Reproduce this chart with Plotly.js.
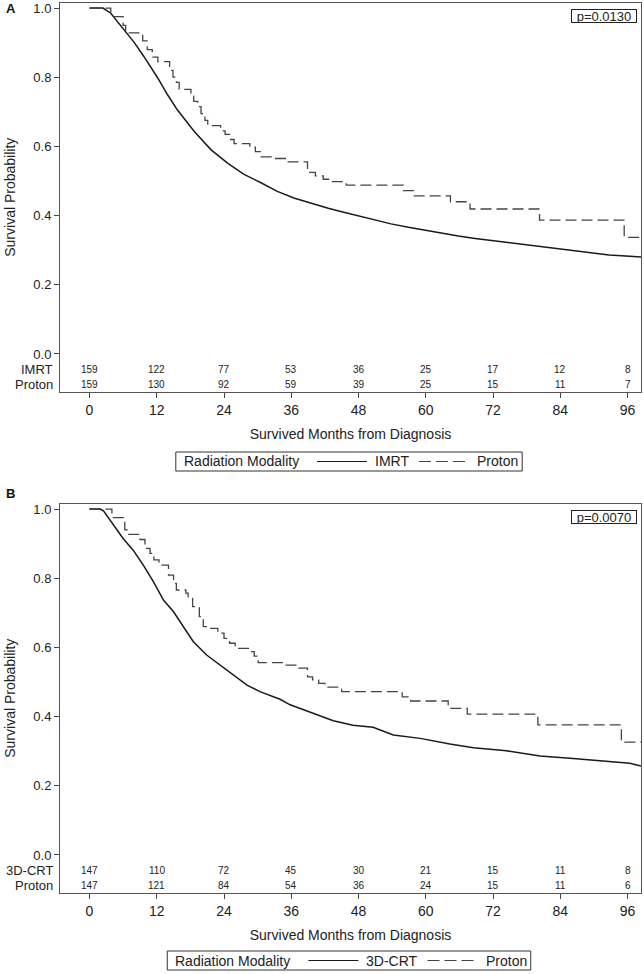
<!DOCTYPE html>
<html>
<head>
<meta charset="utf-8">
<script src="https://cdn.plot.ly/plotly-3.0.1.min.js"></script>
<style>
  html, body { margin: 0; padding: 0; background: #fff; }
  #chart { width: 644px; height: 974px; }
</style>
</head>
<body>
<div id="chart"></div>
<script>
// ---------------- DATA ----------------
// Panel A: IMRT vs Proton
const imrtA_t = [0, 2.4, 3.8, 5, 6.75, 8, 9.7, 12.1, 13.9, 15.7, 18.7, 21.7, 24.7, 27.5, 30.6, 33.5, 36.6, 39.5, 42.6, 45, 48.5, 50.9, 53.8, 56.9, 59.9, 62.9, 65.8, 68.8, 71.8, 74.8, 77.8, 80.8, 83.7, 86.7, 89.7, 92.7, 95.7, 98.4];
const imrtA_s = [1.0, 1.0, 0.985, 0.96, 0.927, 0.90, 0.86, 0.80, 0.75, 0.705, 0.643, 0.59, 0.551, 0.52, 0.495, 0.47, 0.45, 0.435, 0.421, 0.411, 0.397, 0.387, 0.376, 0.366, 0.357, 0.349, 0.341, 0.334, 0.328, 0.322, 0.315, 0.308, 0.302, 0.296, 0.291, 0.286, 0.283, 0.280];
const protonA_t = [0, 3.8, 6.0, 6.45, 9.5, 10.3, 11.2, 12.2, 14.3, 14.9, 15.5, 16.0, 18.1, 18.6, 19.3, 19.9, 20.6, 21.1, 23.4, 24.2, 25.0, 25.8, 28.6, 29.6, 30.6, 33.0, 35.2, 38.9, 40.3, 41.7, 43.0, 45.8, 56.0, 57.8, 64.4, 67.9, 80.3, 95.4, 98.4];
const protonA_s = [1.0, 0.975, 0.95, 0.928, 0.905, 0.88, 0.858, 0.845, 0.82, 0.80, 0.785, 0.765, 0.745, 0.73, 0.715, 0.695, 0.675, 0.66, 0.645, 0.635, 0.62, 0.608, 0.598, 0.585, 0.570, 0.565, 0.555, 0.525, 0.515, 0.505, 0.498, 0.488, 0.472, 0.457, 0.440, 0.419, 0.387, 0.337, 0.337];

// Panel B: 3D-CRT vs Proton
const crtB_t = [0, 1.9, 2.5, 4.25, 6.0, 7.8, 9.6, 11.4, 13.2, 15.0, 16.7, 18.5, 20.9, 24.5, 28.1, 30.4, 34.0, 35.8, 39.9, 43.5, 47, 50.6, 54.2, 59.0, 64.3, 68.5, 74.4, 80.4, 86.3, 92.3, 96.4, 98.4];
const crtB_s = [1.0, 1.0, 0.995, 0.954, 0.915, 0.881, 0.838, 0.79, 0.737, 0.703, 0.66, 0.617, 0.578, 0.535, 0.491, 0.472, 0.45, 0.434, 0.409, 0.388, 0.375, 0.369, 0.347, 0.337, 0.321, 0.31, 0.301, 0.286, 0.279, 0.27, 0.265, 0.257];
const protonB_t = [0, 4.0, 6.3, 6.9, 9.0, 9.9, 10.8, 11.5, 12.4, 14.1, 15.0, 15.5, 17.2, 17.6, 18.4, 19.6, 20.3, 21.1, 22.9, 24.0, 25.0, 26.0, 28.5, 29.4, 30.1, 34.4, 37.2, 38.9, 39.8, 40.9, 42.0, 45.0, 55.8, 57.3, 64.0, 67.4, 80.0, 94.9, 98.4];
const protonB_s = [1.0, 0.975, 0.94, 0.927, 0.912, 0.886, 0.872, 0.853, 0.838, 0.809, 0.785, 0.766, 0.757, 0.742, 0.718, 0.689, 0.66, 0.655, 0.641, 0.626, 0.612, 0.597, 0.588, 0.575, 0.556, 0.549, 0.540, 0.515, 0.506, 0.496, 0.485, 0.472, 0.457, 0.445, 0.424, 0.407, 0.376, 0.326, 0.326];

// Numbers at risk
const riskMonths = [0, 12, 24, 36, 48, 60, 72, 84, 96];
const riskA_imrt   = [159, 122, 77, 53, 36, 25, 17, 12, 8];
const riskA_proton = [159, 130, 92, 59, 39, 25, 15, 11, 7];
const riskB_crt    = [147, 110, 72, 45, 30, 21, 15, 11, 8];
const riskB_proton = [147, 121, 84, 54, 36, 24, 15, 11, 6];

const xTicks = [0, 12, 24, 36, 48, 60, 72, 84, 96];
const yTicks = [0, 0.2, 0.4, 0.6, 0.8, 1.0];
const pA = 'p=0.0130';
const pB = 'p=0.0070';
const legendTitle = 'Radiation Modality';
const seriesA = ['IMRT', 'Proton'];
const seriesB = ['3D-CRT', 'Proton'];

// ---------------- STYLE ----------------
const FONT = 'Liberation Sans, Arial, sans-serif';
const NARROW = 'Liberation Sans Narrow, Arial Narrow, Liberation Sans, Arial, sans-serif';
const SOLID_COLOR = '#1a1a1a';
const DASH_COLOR = '#444';
const DASH = '11px,5px';
const solidLine = {color: SOLID_COLOR, width: 1.5, shape: 'linear'};
const dashLine = {color: DASH_COLOR, width: 1.3, dash: DASH, shape: 'hv'};

const traces = [
  {x: imrtA_t, y: imrtA_s, type: 'scatter', mode: 'lines', name: seriesA[0], line: solidLine, xaxis: 'x', yaxis: 'y', hoverinfo: 'skip'},
  {x: protonA_t, y: protonA_s, type: 'scatter', mode: 'lines', name: seriesA[1], line: dashLine, xaxis: 'x', yaxis: 'y', hoverinfo: 'skip'},
  {x: crtB_t, y: crtB_s, type: 'scatter', mode: 'lines', name: seriesB[0], line: solidLine, xaxis: 'x2', yaxis: 'y2', hoverinfo: 'skip'},
  {x: protonB_t, y: protonB_s, type: 'scatter', mode: 'lines', name: seriesB[1], line: dashLine, xaxis: 'x2', yaxis: 'y2', hoverinfo: 'skip'}
];

const W = 644, H = 974;
const xDom = [60 / W, 641 / W];
const yDomA = [1 - 392 / H, 1 - 2.5 / H];
const yDomB = [1 - 893 / H, 1 - 503.5 / H];
const XR = [-5.26, 98.4];
const YR = [-0.11, 1.016];

function xAxis(anchor) {
  return {
    domain: xDom, range: XR, anchor: anchor,
    showline: true, mirror: true, linecolor: '#555', linewidth: 1,
    showgrid: false, zeroline: false,
    ticks: 'outside', ticklen: 5, tickcolor: '#444', tickwidth: 1,
    tickvals: xTicks, ticktext: xTicks.map(String),
    tickfont: {family: FONT, size: 14, color: '#222'},
    title: {text: 'Survived Months from Diagnosis', font: {family: FONT, size: 14, color: '#222'}, standoff: 12}
  };
}
function yAxis(anchor, dom) {
  return {
    domain: dom, range: YR, anchor: anchor,
    showline: true, mirror: true, linecolor: '#555', linewidth: 1,
    showgrid: false, zeroline: false,
    ticks: 'outside', ticklen: 5, tickcolor: '#444', tickwidth: 1,
    tickvals: yTicks, ticktext: yTicks.map(v => v.toFixed(1)),
    tickfont: {family: FONT, size: 13, color: '#222'},
    title: {text: 'Survival Probability', font: {family: FONT, size: 14, color: '#222'}, standoff: 14}
  };
}

const annotations = [];
const shapes = [];
function riskRows(xref, yref, labels, rows) {
  const ys = [-0.046, -0.087];
  rows.forEach((vals, r) => {
    annotations.push({xref: xref, yref: yref, x: XR[0], y: ys[r], text: labels[r], showarrow: false,
      xanchor: 'right', yanchor: 'middle', xshift: -5, font: {family: FONT, size: 13, color: '#222'}});
    riskMonths.forEach((m, i) => {
      annotations.push({xref: xref, yref: yref, x: m, y: ys[r], text: String(vals[i]), showarrow: false,
        xanchor: 'center', yanchor: 'middle', font: {family: NARROW, size: 10, color: '#222'}});
    });
  });
}
riskRows('x', 'y', seriesA, [riskA_imrt, riskA_proton]);
riskRows('x2', 'y2', seriesB, [riskB_crt, riskB_proton]);

function pBox(xref, yref, txt) {
  annotations.push({xref: xref + ' domain', yref: yref + ' domain', x: 1, y: 1, xanchor: 'right', yanchor: 'top',
    xshift: -4, yshift: -6, text: txt, showarrow: false, bordercolor: '#222', borderwidth: 1, borderpad: 0,
    width: 64, height: 12, bgcolor: '#fff', font: {family: FONT, size: 13, color: '#222'}});
}
pBox('x', 'y', pA);
pBox('x2', 'y2', pB);

annotations.push({xref: 'paper', yref: 'paper', x: 4 / W, y: 1 - 8 / H, xanchor: 'left', yanchor: 'middle',
  text: '<b>A</b>', showarrow: false, font: {family: FONT, size: 13, color: '#111'}});
annotations.push({xref: 'paper', yref: 'paper', x: 4 / W, y: 1 - 493 / H, xanchor: 'left', yanchor: 'middle',
  text: '<b>B</b>', showarrow: false, font: {family: FONT, size: 13, color: '#111'}});

// ---- legend box (drawn as a framed key below each panel) ----
const measureCtx = document.createElement('canvas').getContext('2d');
function textW(t, size) {
  measureCtx.font = size + 'px "Liberation Sans", Arial, sans-serif';
  return measureCtx.measureText(t).width;
}
function legendBox(names, topPx, botPx, centerPx) {
  const fs = 14;
  const wT = textW(legendTitle, fs), w1 = textW(names[0], fs), w2 = textW(names[1], fs);
  const padL = 6, gapTitle = 20, lineLen = 50, gapTxt = 6, gapNext = 12, padR = 6;
  const total = padL + wT + gapTitle + lineLen + gapTxt + w1 + gapNext + lineLen + gapTxt + w2 + padR;
  const L = centerPx - total / 2;
  const midPx = (topPx + botPx) / 2;
  const px = v => v / W, py = v => 1 - v / H;
  shapes.push({type: 'rect', xref: 'paper', yref: 'paper', x0: px(L), x1: px(L + total), y0: py(botPx), y1: py(topPx),
    line: {color: '#333', width: 1}, fillcolor: 'rgba(0,0,0,0)'});
  let cur = L + padL;
  annotations.push({xref: 'paper', yref: 'paper', x: px(cur), y: py(midPx), xanchor: 'left', yanchor: 'middle',
    text: legendTitle, showarrow: false, font: {family: FONT, size: fs, color: '#222'}});
  cur += wT + gapTitle;
  shapes.push({type: 'line', xref: 'paper', yref: 'paper', x0: px(cur), x1: px(cur + lineLen), y0: py(midPx), y1: py(midPx),
    line: {color: SOLID_COLOR, width: 1.2}});
  cur += lineLen + gapTxt;
  annotations.push({xref: 'paper', yref: 'paper', x: px(cur), y: py(midPx), xanchor: 'left', yanchor: 'middle',
    text: names[0], showarrow: false, font: {family: FONT, size: fs, color: '#222'}});
  cur += w1 + gapNext;
  shapes.push({type: 'line', xref: 'paper', yref: 'paper', x0: px(cur), x1: px(cur + lineLen), y0: py(midPx), y1: py(midPx),
    line: {color: DASH_COLOR, width: 1.2, dash: '12px,5px'}});
  cur += lineLen + gapTxt;
  annotations.push({xref: 'paper', yref: 'paper', x: px(cur), y: py(midPx), xanchor: 'left', yanchor: 'middle',
    text: names[1], showarrow: false, font: {family: FONT, size: fs, color: '#222'}});
}
legendBox(seriesA, 452, 471, 349);
legendBox(seriesB, 951, 970, 349);

const layout = {
  width: W, height: H,
  margin: {l: 0, r: 0, t: 0, b: 0, autoexpand: false},
  paper_bgcolor: '#fff', plot_bgcolor: '#fff',
  showlegend: false,
  xaxis: xAxis('y'), yaxis: yAxis('x', yDomA),
  xaxis2: xAxis('y2'), yaxis2: yAxis('x2', yDomB),
  annotations: annotations,
  shapes: shapes
};

Plotly.newPlot('chart', traces, layout, {staticPlot: true, displayModeBar: false});
</script>
</body>
</html>
